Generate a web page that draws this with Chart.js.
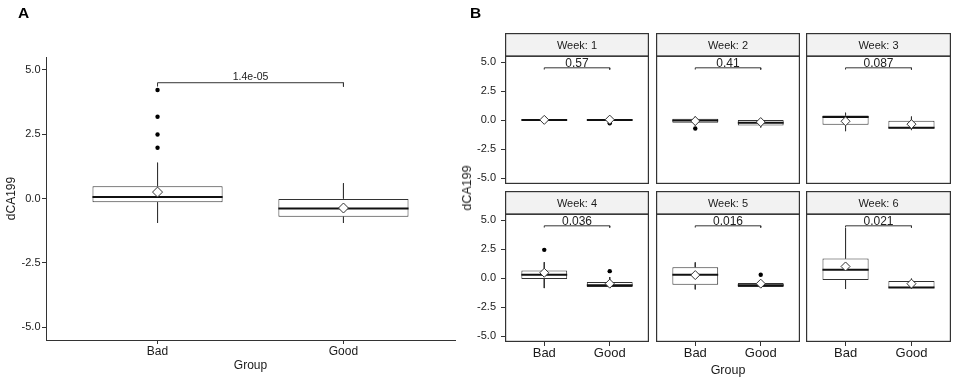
<!DOCTYPE html>
<html><head><meta charset="utf-8">
<script src="https://cdn.jsdelivr.net/npm/chart.js"></script>
<style>
body{margin:0;background:#fff;width:957px;height:384px;overflow:hidden;position:relative;font-family:"Liberation Sans",Arial,sans-serif;}
canvas{position:absolute;}
.tag{position:absolute;font-weight:bold;font-size:15.5px;line-height:15.5px;color:#000;}
.ytitle{position:absolute;font-size:12.5px;color:#222;white-space:nowrap;transform:translate(-50%,-50%) rotate(-90deg);}
</style></head>
<body>
<canvas id="cA" width="470" height="384" style="left:0;top:0"></canvas>
<div id="facets"></div>
<div class="tag" style="left:18px;top:5px">A</div>
<div class="tag" style="left:470px;top:5px">B</div>
<div class="ytitle" style="left:467px;top:188px">dCA199</div>
<script>
// ---------- data ----------
const groups = ['Bad', 'Good'];
const yTicks = [-5, -2.5, 0, 2.5, 5];
const bracketY = 4.5;
const bracketTip = 4.35;

// Panel A (all weeks)
const aQ1 = [-0.15, -0.71];
const aQ3 = [0.48, 0.0];
const aMed = [0.06, -0.39];
const aLo = [-0.95, -0.95];
const aHi = [1.39, 0.59];
const aMean = [0.25, -0.37];
const aOutBad = [4.22, 3.18, 2.49, 1.97];
const aOutGood = [];
const aP = '1.4e-05';

// Panel B (per week) : [Bad, Good]
const weeks = [1, 2, 3, 4, 5, 6];
const bQ1 = [[0, 0], [-0.22, -0.46], [-0.4, -0.72], [-0.08, -0.77], [-0.57, -0.77], [-0.17, -0.82]];
const bQ3 = [[0.02, 0.02], [0.12, 0.0], [0.4, -0.05], [0.66, -0.34], [0.94, -0.43], [1.69, -0.26]];
const bMed = [[0, 0], [-0.03, -0.23], [0.27, -0.66], [0.29, -0.62], [0.29, -0.62], [0.72, -0.8]];
const bLo = [[-0.02, -0.02], [-0.45, -0.63], [-0.95, -0.86], [-0.86, -0.82], [-0.97, -0.85], [-0.94, -0.9]];
const bHi = [[0.02, 0.05], [0.3, 0.1], [0.63, 0.3], [1.37, 0.09], [1.35, -0.26], [4.3, -0.05]];
const bMean = [[0.02, 0.04], [-0.08, -0.17], [-0.1, -0.35], [0.46, -0.48], [0.26, -0.48], [1.0, -0.48]];
const bOutBad = [[], [-0.72], [], [2.43], [], []];
const bOutGood = [[-0.12, -0.28], [], [], [0.6], [0.29], []];
const bP = ['0.57', '0.41', '0.087', '0.036', '0.016', '0.021'];

// ---------- styles ----------
const FONT = '"Liberation Sans", Arial, sans-serif';
const HALF = 0.35;
const LINE = '#333';

function makeDatasets(q1, q3, med, lo, hi, mean, outBad, outGood, st) {
  const xs = groups.map((_, i) => i + 1);
  const whiskers = [], medians = [], outliers = [];
  xs.forEach((x, i) => {
    whiskers.push({x, y: hi[i]}, {x, y: q3[i]}, {x, y: null}, {x, y: q1[i]}, {x, y: lo[i]}, {x, y: null});
    medians.push({x: x - HALF, y: med[i]}, {x: x + HALF, y: med[i]}, {x: x + 0.5, y: null});
  });
  [outBad, outGood].forEach((arr, i) => arr.forEach(v => outliers.push({x: i + 1, y: v})));
  return [
    {type: 'line', label: 'bracket', data: [{x: 1, y: bracketTip}, {x: 1, y: bracketY}, {x: 2, y: bracketY}, {x: 2, y: bracketTip}],
     borderColor: LINE, borderWidth: 1, pointRadius: 0, fill: false, order: 5},
    {type: 'line', label: 'whiskers', data: whiskers, borderColor: LINE, borderWidth: 1, pointRadius: 0, spanGaps: false, fill: false, order: 4},
    {type: 'bar', label: 'box', data: xs.map((x, i) => ({x, y: [q1[i], q3[i]]})),
     backgroundColor: '#fff', borderColor: LINE, borderWidth: 1, borderSkipped: false,
     categoryPercentage: 1, barPercentage: 2 * HALF, grouped: false, order: 3},
    {type: 'line', label: 'median', data: medians, borderColor: '#111', borderWidth: 2, pointRadius: 0, spanGaps: false, fill: false, order: 2},
    {type: 'scatter', label: 'outliers', data: outliers, pointRadius: st.outR, backgroundColor: '#000', borderColor: '#000', borderWidth: 0, order: 1},
    {type: 'scatter', label: 'mean', data: xs.map((x, i) => ({x, y: mean[i]})), pointStyle: 'rectRot',
     pointRadius: st.meanR, backgroundColor: '#fff', borderColor: LINE, borderWidth: 1, order: 0}
  ];
}

const panelPlugin = {
  id: 'panel',
  beforeDraw(chart, _a, o) {
    if (!o.strip) return;
    const {ctx, chartArea: a} = chart;
    ctx.save();
    ctx.fillStyle = '#f2f2f2';
    ctx.fillRect(a.left, 0, a.right - a.left, a.top);
    ctx.strokeStyle = LINE; ctx.lineWidth = 1.2;
    ctx.strokeRect(a.left + 0.6, 0.6, a.right - a.left - 1.2, a.top - 0.6);
    ctx.restore();
  },
  afterDatasetsDraw(chart, _a, o) {
    const {ctx, scales: {x, y}} = chart;
    ctx.save();
    ctx.font = o.fontSize + 'px ' + FONT;
    ctx.fillStyle = '#222'; ctx.textAlign = 'center'; ctx.textBaseline = 'alphabetic';
    ctx.fillText(o.label, (x.getPixelForValue(1) + x.getPixelForValue(2)) / 2, y.getPixelForValue(bracketY) - o.gap);
    ctx.restore();
  },
  afterDraw(chart, _a, o) {
    if (!o.border) return;
    const {ctx, chartArea: a} = chart;
    ctx.save();
    ctx.strokeStyle = LINE; ctx.lineWidth = 1.2;
    ctx.strokeRect(a.left + 0.6, a.top, a.right - a.left - 1.2, a.bottom - a.top - 0.6);
    ctx.restore();
  }
};

function xScale(o) {
  return {
    type: 'linear', min: 0.4, max: 2.6, offset: false, display: o.display,
    afterBuildTicks: s => { s.ticks = groups.map((_, i) => ({value: i + 1})); },
    afterFit: s => { if (o.display) s.height = o.height; s.paddingLeft = 0; s.paddingRight = 0; },
    border: {display: o.border, color: LINE, width: 1},
    grid: {display: true, drawOnChartArea: false, drawTicks: true, tickLength: 4, color: LINE, offset: false},
    ticks: {padding: 0, maxRotation: 0, autoSkip: false, color: '#1a1a1a', font: {family: FONT, size: o.fontSize},
            callback: (v, i) => groups[i]},
    title: {display: !!o.title, text: o.title || '', color: '#1a1a1a', font: {family: FONT, size: o.titleSize || 12},
            padding: {top: 0, bottom: o.titlePad || 0}}
  };
}
function yScale(o) {
  return {
    type: 'linear', min: -5.5, max: 5.5, display: o.display,
    afterBuildTicks: s => { s.ticks = yTicks.map(v => ({value: v})); },
    afterFit: s => { if (o.display) s.width = o.width; s.paddingTop = 0; s.paddingBottom = 0; },
    border: {display: o.border, color: LINE, width: 1},
    grid: {display: true, drawOnChartArea: false, drawTicks: true, tickLength: 4, color: LINE},
    ticks: {padding: o.pad, color: '#1a1a1a', font: {family: FONT, size: 11}, callback: v => Number(v).toFixed(1)},
    title: {display: !!o.title, text: o.title || '', color: '#1a1a1a', font: {family: FONT, size: 12},
            padding: {top: o.titlePad || 0, bottom: 0}}
  };
}

const common = {responsive: false, animation: false, events: [], maintainAspectRatio: false};

// Panel A
new Chart(document.getElementById('cA'), {
  type: 'scatter',
  data: {datasets: makeDatasets(aQ1, aQ3, aMed, aLo, aHi, aMean, aOutBad, aOutGood, {outR: 2.2, meanR: 5})},
  options: Object.assign({}, common, {
    layout: {autoPadding: false, padding: {top: 57, right: 15, left: 0, bottom: 0}},
    plugins: {legend: {display: false}, tooltip: {enabled: false}, title: {display: false},
              panel: {label: aP, fontSize: 10.5, gap: 3, strip: false, border: false}},
    scales: {
      x: xScale({display: true, height: 44, border: true, fontSize: 12, title: 'Group', titleSize: 12, titlePad: 10.8}),
      y: yScale({display: true, width: 46, border: true, pad: 1.5, title: 'dCA199', titlePad: 4.5})
    }
  }),
  plugins: [panelPlugin]
});

// Panel B facets
const colLeft = [505, 656, 806];
const colWidth = [144, 144, 145];
const rowTop = [33, 191];
const rowHeight = [152, 193];
const YW = 39;
const holder = document.getElementById('facets');
weeks.forEach((w, k) => {
  const r = Math.floor(k / 3), c = k % 3;
  const cv = document.createElement('canvas');
  const left = c === 0 ? colLeft[c] - YW : colLeft[c];
  const width = colWidth[c] + (c === 0 ? YW : 0);
  cv.width = width; cv.height = rowHeight[r];
  cv.style.left = left + 'px'; cv.style.top = rowTop[r] + 'px';
  holder.appendChild(cv);
  new Chart(cv, {
    type: 'scatter',
    data: {datasets: makeDatasets(bQ1[k], bQ3[k], bMed[k], bLo[k], bHi[k], bMean[k], bOutBad[k], bOutGood[k], {outR: 2.2, meanR: 4.5})},
    options: Object.assign({}, common, {
      layout: {autoPadding: false, padding: {top: 0, right: 0, left: 0, bottom: r === 0 ? 1 : 0}},
      plugins: {legend: {display: false}, tooltip: {enabled: false},
                title: {display: true, text: 'Week: ' + w, fullSize: false, color: '#1a1a1a',
                        font: {family: FONT, size: 11, weight: 'normal'}, padding: {top: 6, bottom: 4}},
                panel: {label: bP[k], fontSize: 12, gap: 0.7, strip: true, border: true}},
      scales: {
        x: xScale({display: r === 1, height: 42, border: false, fontSize: 13,
                   title: (r === 1 && c === 1) ? 'Group' : '', titleSize: 12.5, titlePad: 5.5}),
        y: yScale({display: c === 0, width: YW, border: false, pad: 5})
      }
    }),
    plugins: [panelPlugin]
  });
});
</script>
</body></html>
